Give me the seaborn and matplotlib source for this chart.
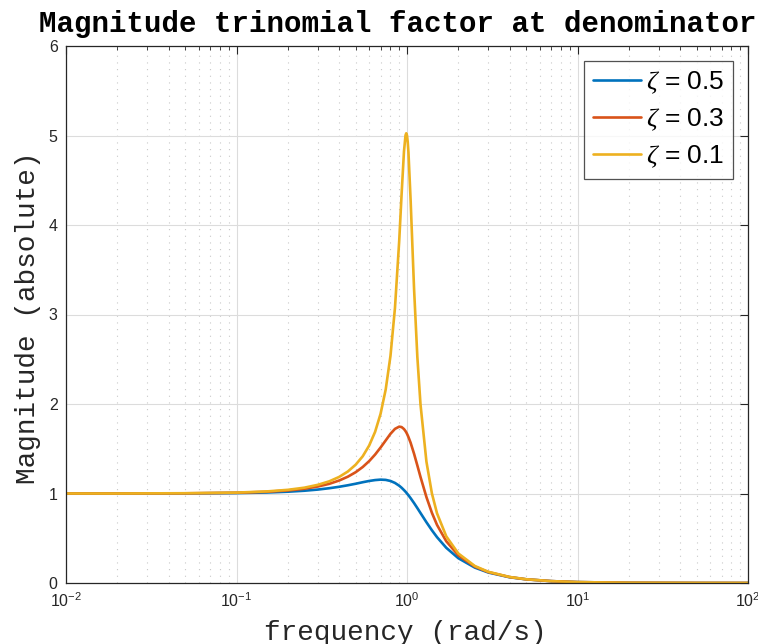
import matplotlib
matplotlib.use("Agg")
import matplotlib.pyplot as plt
import seaborn as sns
import pandas as pd
from matplotlib.ticker import LogLocator, NullFormatter, FixedLocator

freq = [0.01, 0.02, 0.05, 0.1, 0.15, 0.2, 0.25, 0.3, 0.35, 0.4, 0.45, 0.5, 0.55,
        0.6, 0.65, 0.7, 0.75, 0.8, 0.85, 0.9, 0.93, 0.96, 0.98, 0.99, 1.0, 1.01,
        1.02, 1.05, 1.1, 1.15, 1.2, 1.3, 1.4, 1.5, 1.7, 2.0, 2.5, 3.0, 4.0, 5.0,
        7.0, 10.0, 20.0, 50.0, 100.0]

mag_z05 = [1.000, 1.000, 1.001, 1.005, 1.011, 1.020, 1.031, 1.044, 1.059, 1.075,
           1.092, 1.109, 1.126, 1.140, 1.150, 1.155, 1.152, 1.140, 1.118, 1.087,
           1.064, 1.038, 1.020, 1.010, 1.000, 0.990, 0.980, 0.948, 0.893, 0.837,
           0.782, 0.679, 0.589, 0.512, 0.393, 0.277, 0.172, 0.117, 0.064, 0.041,
           0.021, 0.010, 0.0025, 0.0004, 0.0001]

mag_z03 = [1.000, 1.000, 1.002, 1.008, 1.019, 1.034, 1.053, 1.078, 1.108, 1.145,
           1.188, 1.238, 1.296, 1.362, 1.435, 1.514, 1.593, 1.667, 1.722, 1.747,
           1.742, 1.720, 1.697, 1.683, 1.667, 1.649, 1.630, 1.567, 1.444, 1.313,
           1.185, 0.960, 0.784, 0.649, 0.466, 0.309, 0.183, 0.122, 0.066, 0.041,
           0.021, 0.010, 0.0025, 0.0004, 0.0001]

mag_z01 = [1.000, 1.000, 1.003, 1.010, 1.023, 1.041, 1.065, 1.097, 1.136, 1.185,
           1.246, 1.322, 1.416, 1.536, 1.689, 1.891, 2.162, 2.538, 3.073, 3.821,
           4.350, 4.822, 5.001, 5.025, 5.000, 4.926, 4.809, 4.279, 3.288, 2.525,
           1.995, 1.356, 1.000, 0.778, 0.521, 0.330, 0.190, 0.125, 0.067, 0.042,
           0.021, 0.010, 0.0025, 0.0004, 0.0001]

labels = [r"$\zeta$ = 0.5", r"$\zeta$ = 0.3", r"$\zeta$ = 0.1"]
colors = ["#0072BD", "#D95319", "#EDB120"]
yticks = [0, 1, 2, 3, 4, 5, 6]
xticks = [0.01, 0.1, 1, 10, 100]

frames = []
for lab, mags in zip(labels, [mag_z05, mag_z03, mag_z01]):
    frames.append(pd.DataFrame({"freq": freq, "mag": mags, "zeta": lab}))
df = pd.concat(frames, ignore_index=True)

sns.set_style("white")
plt.rcParams["font.family"] = ["Liberation Sans", "DejaVu Sans"]
plt.rcParams["mathtext.fontset"] = "custom"
plt.rcParams["mathtext.rm"] = "Liberation Sans"
plt.rcParams["mathtext.it"] = "Liberation Serif:italic"
plt.rcParams["axes.unicode_minus"] = False

axc = "#262626"
fig = plt.figure(figsize=(7.58, 6.44), dpi=100)
ax = fig.add_axes([66 / 758, 61 / 644, 682 / 758, 537 / 644])

sns.lineplot(data=df, x="freq", y="mag", hue="zeta", palette=colors,
             hue_order=labels, estimator=None, sort=False, linewidth=1.9, ax=ax)

ax.set_xscale("log")
ax.set_xlim(0.01, 100)
ax.set_ylim(0, 6)
ax.xaxis.set_major_locator(FixedLocator(xticks))
ax.xaxis.set_minor_locator(LogLocator(base=10, subs=range(2, 10), numticks=20))
ax.xaxis.set_minor_formatter(NullFormatter())
ax.set_yticks(yticks)

ax.grid(True, which="major", color="#dcdcdc", linewidth=0.8, linestyle="-")
ax.grid(True, which="minor", axis="x", color="#c8c8c8", linewidth=0.8,
        linestyle=(0, (1, 5)))
ax.set_axisbelow(True)

for s in ax.spines.values():
    s.set_color(axc)
    s.set_linewidth(0.9)
ax.tick_params(which="both", direction="in", top=True, right=True,
               colors=axc, labelcolor=axc, labelsize=11.5)
ax.tick_params(which="major", length=6, width=0.8, pad=6)
ax.tick_params(which="minor", length=3, width=0.6)

ax.set_xlabel("")
ax.set_ylabel("")
fig.text(405 / 758, 4 / 644, "frequency (rad/s)", family="Liberation Mono",
         fontsize=20, ha="center", va="baseline", color=axc)
fig.text(28 / 758, 1 - 318 / 644, "Magnitude (absolute)", family="Liberation Mono",
         fontsize=20, ha="center", va="center", rotation=90, color=axc)
fig.text(398 / 758, 1 - 32 / 644, "Magnitude trinomial factor at denominator",
         family="Liberation Mono", fontweight="bold", fontsize=21,
         ha="center", va="baseline", color="black")

leg = ax.legend(loc="upper right", fontsize=19, handlelength=1.8,
                handletextpad=0.2, borderpad=0.35, labelspacing=0.4,
                frameon=True, fancybox=False, borderaxespad=0.55)
leg.get_frame().set_edgecolor(axc)
leg.get_frame().set_linewidth(0.9)
for t in leg.get_texts():
    t.set_color("black")

fig.savefig("out.png", dpi=100)
